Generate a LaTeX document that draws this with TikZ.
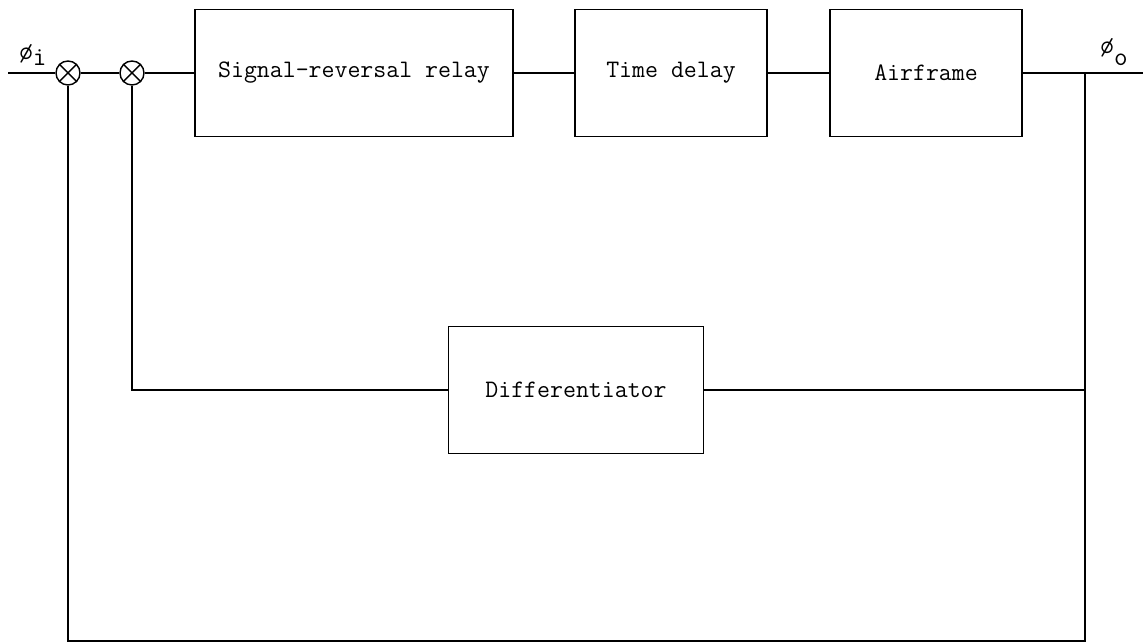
\documentclass[tikz,border=0pt]{standalone}
\usepackage{fontspec}
\usetikzlibrary{positioning}
\tikzset{
  block/.style={draw, line width=1pt, minimum height=2.54cm, inner sep=2pt,
    font=\fontsize{14.3}{16}\selectfont\ttfamily},
  sumnode/.style={draw, circle, line width=0.8pt, minimum size=0.48cm, inner sep=0pt},
  signal/.style={line width=1pt},
  sig label/.style={font=\fontsize{15}{17}\selectfont\ttfamily, inner sep=0pt},
}

\begin{document}
\begin{tikzpicture}[x=0.02cm, y=-0.02cm]
  \useasboundingbox (0,0) rectangle (1143,644);
  % forward path
  \node[sumnode] (sum1) at (68,73) {};
  \node[sumnode] (sum2) at (132,73) {};
  \node[block, minimum width=6.36cm] (relay) at (354,73) {Signal-reversal relay};
  \node[block, minimum width=3.84cm] (delay) at (671,73) {Time delay};
  \node[block, minimum width=3.84cm] (airframe) at (926,73) {Airframe};
  % feedback path
  \node[block, minimum width=5.1cm] (diff) at (576,390) {Differentiator};
  \coordinate (in) at (8,73);
  \coordinate (out) at (1143,73);
  \coordinate (tap) at (1085,73);
  \coordinate (bottom) at (1085,641);
  \foreach \s in {sum1,sum2}{
    \draw[line width=0.8pt] (\s.north east) -- (\s.south west)
      (\s.north west) -- (\s.south east);
  }
  \draw[signal] (in) -- (sum1) -- (sum2) -- (relay) -- (delay) -- (airframe) -- (out);
  \draw[signal] (tap) |- (diff.east);
  \draw[signal] (diff.west) -| (sum2.south);
  \draw[signal] (tap) -- (bottom) -| (sum1.south);
  % labels
  \node[sig label] (phiin) at (33,55) {ø\raisebox{-0.6ex}{i}};
  \node[sig label] (phiout) at (1114,52) {ø\raisebox{-1.1ex}{o}};
\end{tikzpicture}
\end{document}
